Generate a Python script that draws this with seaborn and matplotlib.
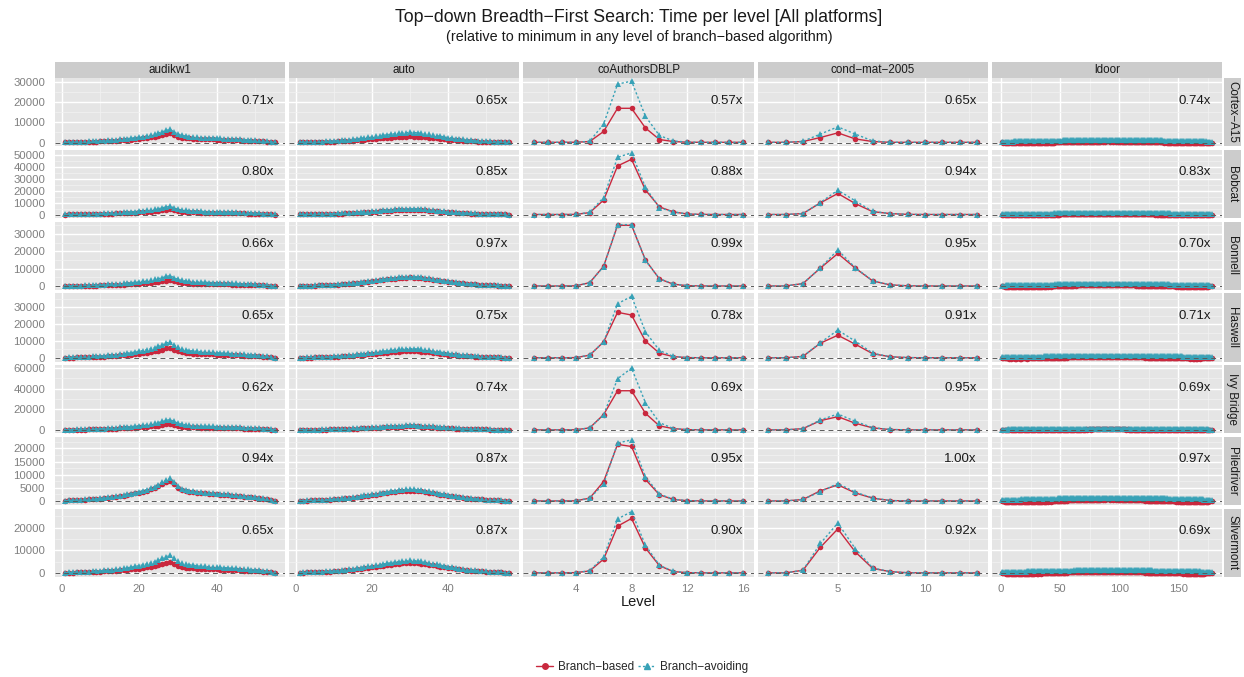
import matplotlib
matplotlib.use("Agg")
import matplotlib.pyplot as plt
import seaborn as sns
import pandas as pd
from matplotlib.patches import Rectangle
from matplotlib.lines import Line2D

platforms = ["Cortex−A15", "Bobcat", "Bonnell", "Haswell", "Ivy Bridge", "Piledriver", "Silvermont"]
graphs = ["audikw1", "auto", "coAuthorsDBLP", "cond−mat−2005", "ldoor"]
algos = ["Branch−based", "Branch−avoiding"]

speedups = [
    [0.71, 0.65, 0.57, 0.65, 0.74],
    [0.80, 0.85, 0.88, 0.94, 0.83],
    [0.66, 0.97, 0.99, 0.95, 0.70],
    [0.65, 0.75, 0.78, 0.91, 0.71],
    [0.62, 0.74, 0.69, 0.95, 0.69],
    [0.94, 0.87, 0.95, 1.00, 0.97],
    [0.65, 0.87, 0.90, 0.92, 0.69],
]

y_breaks = [
    [0, 10000, 20000, 30000],
    [0, 10000, 20000, 30000, 40000, 50000],
    [0, 10000, 20000, 30000],
    [0, 10000, 20000, 30000],
    [0, 20000, 40000, 60000],
    [0, 5000, 10000, 15000, 20000],
    [0, 10000, 20000],
]
x_breaks = [[0, 20, 40], [0, 20, 40], [4, 8, 12, 16], [5, 10], [0, 50, 100, 150]]

# ---- audikw1 ----
audikw1_based = {
    "Cortex−A15": [90,140,180,230,270,320,360,410,450,540,630,720,810,950,1080,1220,1350,1490,1670,1850,2070,2300,2570,2880,3240,3690,4190,4500,3690,2930,2480,2250,2070,1940,1800,1710,1670,1580,1530,1490,1400,1350,1310,1220,1170,1080,990,900,860,770,680,540,410,270,90],
    "Bobcat": [90,140,180,230,270,320,360,410,450,540,630,720,810,950,1080,1220,1350,1490,1670,1850,2070,2300,2570,2880,3240,3690,4190,4500,3690,2930,2480,2250,2070,1940,1800,1710,1670,1580,1530,1490,1400,1350,1310,1220,1170,1080,990,900,860,770,680,540,410,270,90],
    "Bonnell": [70,105,140,175,210,245,280,315,350,420,490,560,630,735,840,945,1050,1155,1295,1435,1610,1785,1995,2240,2520,2870,3255,3500,2870,2275,1925,1750,1610,1505,1400,1330,1295,1225,1190,1155,1085,1050,1015,945,910,840,770,700,665,595,525,420,315,210,70],
    "Haswell": [120,180,240,300,360,420,480,540,600,720,840,960,1080,1260,1440,1620,1800,1980,2220,2460,2760,3060,3420,3840,4320,4920,5580,6000,4920,3900,3300,3000,2760,2580,2400,2280,2220,2100,2040,1980,1860,1800,1740,1620,1560,1440,1320,1200,1140,1020,900,720,540,360,120],
    "Ivy Bridge": [120,180,240,300,360,420,480,540,600,720,840,960,1080,1260,1440,1620,1800,1980,2220,2460,2760,3060,3420,3840,4320,4920,5580,6000,4920,3900,3300,3000,2760,2580,2400,2280,2220,2100,2040,1980,1860,1800,1740,1620,1560,1440,1320,1200,1140,1020,900,720,540,360,120],
    "Piledriver": [156,234,312,390,468,546,624,702,780,936,1092,1248,1404,1638,1872,2106,2340,2574,2886,3198,3588,3978,4446,4992,5616,6396,7254,7800,6396,5070,4290,3900,3588,3354,3120,2964,2886,2730,2652,2574,2418,2340,2262,2106,2028,1872,1716,1560,1482,1326,1170,936,702,468,156],
    "Silvermont": [96,144,192,240,288,336,384,432,480,576,672,768,864,1008,1152,1296,1440,1584,1776,1968,2208,2448,2736,3072,3456,3936,4464,4800,3936,3120,2640,2400,2208,2064,1920,1824,1776,1680,1632,1584,1488,1440,1392,1296,1248,1152,1056,960,912,816,720,576,432,288,96],
}
audikw1_avoiding = {
    "Cortex−A15": [130,200,260,330,390,460,520,590,650,780,910,1040,1170,1370,1560,1760,1950,2150,2410,2670,2990,3320,3710,4160,4680,5330,6050,6500,5330,4230,3580,3250,2990,2800,2600,2470,2410,2280,2210,2150,2020,1950,1890,1760,1690,1560,1430,1300,1240,1110,980,780,590,390,130],
    "Bobcat": [140,210,280,350,420,490,560,630,700,840,980,1120,1260,1470,1680,1890,2100,2310,2590,2870,3220,3570,3990,4480,5040,5740,6510,7000,5740,4550,3850,3500,3220,3010,2800,2660,2590,2450,2380,2310,2170,2100,2030,1890,1820,1680,1540,1400,1330,1190,1050,840,630,420,140],
    "Bonnell": [120,180,240,300,360,420,480,540,600,720,840,960,1080,1260,1440,1620,1800,1980,2220,2460,2760,3060,3420,3840,4320,4920,5580,6000,4920,3900,3300,3000,2760,2580,2400,2280,2220,2100,2040,1980,1860,1800,1740,1620,1560,1440,1320,1200,1140,1020,900,720,540,360,120],
    "Haswell": [190,285,380,475,570,665,760,855,950,1140,1330,1520,1710,1995,2280,2565,2850,3135,3515,3895,4370,4845,5415,6080,6840,7790,8835,9500,7790,6175,5225,4750,4370,4085,3800,3610,3515,3325,3230,3135,2945,2850,2755,2565,2470,2280,2090,1900,1805,1615,1425,1140,855,570,190],
    "Ivy Bridge": [200,300,400,500,600,700,800,900,1000,1200,1400,1600,1800,2100,2400,2700,3000,3300,3700,4100,4600,5100,5700,6400,7200,8200,9300,10000,8200,6500,5500,5000,4600,4300,4000,3800,3700,3500,3400,3300,3100,3000,2900,2700,2600,2400,2200,2000,1900,1700,1500,1200,900,600,200],
    "Piledriver": [172,258,344,430,516,602,688,774,860,1032,1204,1376,1548,1806,2064,2322,2580,2838,3182,3526,3956,4386,4902,5504,6192,7052,7998,8600,7052,5590,4730,4300,3956,3698,3440,3268,3182,3010,2924,2838,2666,2580,2494,2322,2236,2064,1892,1720,1634,1462,1290,1032,774,516,172],
    "Silvermont": [156,234,312,390,468,546,624,702,780,936,1092,1248,1404,1638,1872,2106,2340,2574,2886,3198,3588,3978,4446,4992,5616,6396,7254,7800,6396,5070,4290,3900,3588,3354,3120,2964,2886,2730,2652,2574,2418,2340,2262,2106,2028,1872,1716,1560,1482,1326,1170,936,702,468,156],
}

# ---- auto ----
auto_based = {
    "Cortex−A15": [90,120,150,180,210,240,300,360,420,480,570,660,750,870,990,1110,1260,1410,1560,1710,1860,2010,2160,2310,2460,2610,2730,2850,2940,3000,2970,2880,2760,2610,2430,2250,2040,1860,1680,1500,1350,1200,1050,930,810,690,600,510,450,390,330,270,210,150,90,60],
    "Bobcat": [120,160,200,240,280,320,400,480,560,640,760,880,1000,1160,1320,1480,1680,1880,2080,2280,2480,2680,2880,3080,3280,3480,3640,3800,3920,4000,3960,3840,3680,3480,3240,3000,2720,2480,2240,2000,1800,1600,1400,1240,1080,920,800,680,600,520,440,360,280,200,120,80],
    "Bonnell": [150,200,250,300,350,400,500,600,700,800,950,1100,1250,1450,1650,1850,2100,2350,2600,2850,3100,3350,3600,3850,4100,4350,4550,4750,4900,5000,4950,4800,4600,4350,4050,3750,3400,3100,2800,2500,2250,2000,1750,1550,1350,1150,1000,850,750,650,550,450,350,250,150,100],
    "Haswell": [120,160,200,240,280,320,400,480,560,640,760,880,1000,1160,1320,1480,1680,1880,2080,2280,2480,2680,2880,3080,3280,3480,3640,3800,3920,4000,3960,3840,3680,3480,3240,3000,2720,2480,2240,2000,1800,1600,1400,1240,1080,920,800,680,600,520,440,360,280,200,120,80],
    "Ivy Bridge": [105,140,175,210,245,280,350,420,490,560,665,770,875,1015,1155,1295,1470,1645,1820,1995,2170,2345,2520,2695,2870,3045,3185,3325,3430,3500,3465,3360,3220,3045,2835,2625,2380,2170,1960,1750,1575,1400,1225,1085,945,805,700,595,525,455,385,315,245,175,105,70],
    "Piledriver": [120,160,200,240,280,320,400,480,560,640,760,880,1000,1160,1320,1480,1680,1880,2080,2280,2480,2680,2880,3080,3280,3480,3640,3800,3920,4000,3960,3840,3680,3480,3240,3000,2720,2480,2240,2000,1800,1600,1400,1240,1080,920,800,680,600,520,440,360,280,200,120,80],
    "Silvermont": [135,180,225,270,315,360,450,540,630,720,855,990,1125,1305,1485,1665,1890,2115,2340,2565,2790,3015,3240,3465,3690,3915,4095,4275,4410,4500,4455,4320,4140,3915,3645,3375,3060,2790,2520,2250,2025,1800,1575,1395,1215,1035,900,765,675,585,495,405,315,225,135,90],
}
auto_avoiding = {
    "Cortex−A15": [150,200,250,300,350,400,500,600,700,800,950,1100,1250,1450,1650,1850,2100,2350,2600,2850,3100,3350,3600,3850,4100,4350,4550,4750,4900,5000,4950,4800,4600,4350,4050,3750,3400,3100,2800,2500,2250,2000,1750,1550,1350,1150,1000,850,750,650,550,450,350,250,150,100],
    "Bobcat": [150,200,250,300,350,400,500,600,700,800,950,1100,1250,1450,1650,1850,2100,2350,2600,2850,3100,3350,3600,3850,4100,4350,4550,4750,4900,5000,4950,4800,4600,4350,4050,3750,3400,3100,2800,2500,2250,2000,1750,1550,1350,1150,1000,850,750,650,550,450,350,250,150,100],
    "Bonnell": [165,220,275,330,385,440,550,660,770,880,1045,1210,1375,1595,1815,2035,2310,2585,2860,3135,3410,3685,3960,4235,4510,4785,5005,5225,5390,5500,5445,5280,5060,4785,4455,4125,3740,3410,3080,2750,2475,2200,1925,1705,1485,1265,1100,935,825,715,605,495,385,275,165,110],
    "Haswell": [165,220,275,330,385,440,550,660,770,880,1045,1210,1375,1595,1815,2035,2310,2585,2860,3135,3410,3685,3960,4235,4510,4785,5005,5225,5390,5500,5445,5280,5060,4785,4455,4125,3740,3410,3080,2750,2475,2200,1925,1705,1485,1265,1100,935,825,715,605,495,385,275,165,110],
    "Ivy Bridge": [135,180,225,270,315,360,450,540,630,720,855,990,1125,1305,1485,1665,1890,2115,2340,2565,2790,3015,3240,3465,3690,3915,4095,4275,4410,4500,4455,4320,4140,3915,3645,3375,3060,2790,2520,2250,2025,1800,1575,1395,1215,1035,900,765,675,585,495,405,315,225,135,90],
    "Piledriver": [135,180,225,270,315,360,450,540,630,720,855,990,1125,1305,1485,1665,1890,2115,2340,2565,2790,3015,3240,3465,3690,3915,4095,4275,4410,4500,4455,4320,4140,3915,3645,3375,3060,2790,2520,2250,2025,1800,1575,1395,1215,1035,900,765,675,585,495,405,315,225,135,90],
    "Silvermont": [165,220,275,330,385,440,550,660,770,880,1045,1210,1375,1595,1815,2035,2310,2585,2860,3135,3410,3685,3960,4235,4510,4785,5005,5225,5390,5500,5445,5280,5060,4785,4455,4125,3740,3410,3080,2750,2475,2200,1925,1705,1485,1265,1100,935,825,715,605,495,385,275,165,110],
}

# ---- coAuthorsDBLP ----
coauthors_based = {
    "Cortex−A15": [100,100,100,150,500,5500,17000,17000,7200,1500,500,150,100,100,100,100],
    "Bobcat": [100,100,100,200,1700,12200,41000,46600,20700,6500,2300,500,200,100,100,100],
    "Bonnell": [100,100,100,200,2000,11500,35000,35000,15000,4200,1100,300,100,100,100,100],
    "Haswell": [100,100,100,200,1600,9500,26900,25300,9900,2800,800,200,100,100,100,100],
    "Ivy Bridge": [100,100,100,200,2000,14900,38000,38000,16100,3900,1300,300,100,100,100,100],
    "Piledriver": [50,50,50,100,1100,7400,21500,20700,8200,2400,600,150,50,50,50,50],
    "Silvermont": [50,50,50,150,900,6100,20600,24000,11000,3200,600,150,50,50,50,50],
}
coauthors_avoiding = {
    "Cortex−A15": [100,100,100,150,600,9200,29000,30500,13000,3500,800,200,100,100,100,100],
    "Bobcat": [100,100,100,200,1900,14400,48300,52000,22900,5800,2300,500,200,100,100,100],
    "Bonnell": [100,100,100,200,2000,11300,35400,35400,14800,4300,1200,300,100,100,100,100],
    "Haswell": [100,100,100,200,1700,9400,32000,36300,15400,4400,900,200,100,100,100,100],
    "Ivy Bridge": [100,100,100,200,2000,14500,49600,59900,26400,7100,1400,300,100,100,100,100],
    "Piledriver": [50,50,50,100,1100,6400,22000,23200,9200,2600,700,150,50,50,50,50],
    "Silvermont": [50,50,50,150,1000,7000,23800,27000,12200,3400,700,150,50,50,50,50],
}

# ---- cond-mat-2005 ----
condmat_based = {
    "Cortex−A15": [100,100,500,2500,4800,1800,500,100,100,100,100,100,100],
    "Bobcat": [100,100,900,9900,17800,9300,2500,900,200,100,100,100,100],
    "Bonnell": [100,100,1500,10400,18800,10400,3000,750,200,100,100,100,100],
    "Haswell": [100,100,900,8700,13400,8100,2500,700,200,100,100,100,100],
    "Ivy Bridge": [100,100,1300,9000,12900,6500,2000,400,100,100,100,100,100],
    "Piledriver": [50,50,600,3900,6150,3100,1100,200,50,50,50,50,50],
    "Silvermont": [50,50,1200,11300,19400,9300,2000,600,100,50,50,50,50],
}
condmat_avoiding = {
    "Cortex−A15": [100,100,600,4200,7800,4200,800,150,100,100,100,100,100],
    "Bobcat": [100,100,900,10200,20600,11600,2700,900,200,100,100,100,100],
    "Bonnell": [100,100,1500,10600,20800,10600,3100,750,200,100,100,100,100],
    "Haswell": [100,100,900,9000,16400,9900,2800,700,200,100,100,100,100],
    "Ivy Bridge": [100,100,1300,9700,15500,8400,2200,500,100,100,100,100,100],
    "Piledriver": [50,50,600,3600,6650,3400,1200,200,50,50,50,50,50],
    "Silvermont": [50,50,1200,13000,22000,10700,2200,600,100,50,50,50,50],
}

# ---- ldoor (nearly identical on every platform) ----
ldoor_based = [100,-100,-200,-300,-300,-300,-400,-400,-300,-300,
    -300,-400,-400,-300,-300,-400,-400,-300,-300,-300,
    -300,-400,-300,-300,-300,-300,-300,-300,-200,-300,
    -300,-200,-200,-300,-200,-200,-200,-200,-100,-200,
    -100,-200,-100,-100,0,100,100,100,100,200,
    200,200,200,200,300,200,300,300,300,300,
    300,400,300,400,400,400,400,400,400,400,
    400,500,400,500,500,400,500,500,500,500,
    500,500,500,500,600,500,600,500,600,600,
    600,500,600,600,500,600,500,600,500,500,
    500,500,500,500,500,400,500,400,400,400,
    400,400,400,300,400,300,300,300,300,300,
    300,200,300,200,200,200,200,200,200,100,
    200,100,100,100,100,100,100,0,100,0,
    0,-100,0,-100,-100,-100,-100,-200,-100,-200,
    -200,-200,-200,-300,-200,-300,-300,-300,-300,-400,
    -300,-400,-400,-300,-400,-400,-300,-400,-300,-300,
    -300,-300,-200,-200,-200,-100,-100,0]
ldoor_avoiding = [300,350,370,410,440,450,470,480,500,510,
    520,530,550,560,570,590,600,610,630,640,
    650,660,680,690,710,720,730,750,760,770,
    780,800,810,820,830,850,860,870,880,890,
    900,910,920,930,950,960,970,980,990,1000,
    1010,1020,1030,1040,1050,1050,1060,1070,1080,1090,
    1090,1100,1110,1110,1120,1130,1130,1140,1140,1150,
    1150,1160,1160,1170,1170,1180,1180,1190,1190,1200,
    1200,1210,1210,1210,1220,1220,1230,1230,1230,1240,
    1240,1240,1250,1250,1250,1250,1260,1260,1260,1260,
    1260,1260,1260,1250,1250,1250,1250,1240,1240,1240,
    1230,1230,1220,1220,1210,1210,1200,1200,1190,1180,
    1170,1160,1150,1140,1130,1120,1110,1100,1090,1080,
    1070,1060,1050,1040,1030,1020,1010,1000,990,980,
    970,960,950,940,930,920,910,900,890,880,
    870,860,850,840,830,820,810,800,790,780,
    770,760,750,740,720,700,680,660,640,620,
    600,570,540,500,460,410,360,300]

# ---------------------------------------------------------------
series = {
    "audikw1": (audikw1_based, audikw1_avoiding),
    "auto": (auto_based, auto_avoiding),
    "coAuthorsDBLP": (coauthors_based, coauthors_avoiding),
    "cond−mat−2005": (condmat_based, condmat_avoiding),
    "ldoor": ({p: ldoor_based for p in platforms}, {p: ldoor_avoiding for p in platforms}),
}
records = []
for g in graphs:
    for a, d in zip(algos, series[g]):
        for p in platforms:
            for k, v in enumerate(d[p]):
                records.append((p, g, a, k + 1, v))
df = pd.DataFrame(records, columns=["platform", "graph", "algo", "level", "time"])

RED = "#C9283E"
BLUE = "#38A2B7"
styles = {
    "Branch−based": dict(color=RED, marker="o", markersize=4.0, linestyle="-", linewidth=1.0),
    "Branch−avoiding": dict(color=BLUE, marker="^", markersize=4.8, linestyle=(0, (1.6, 1.6)), linewidth=1.0),
}

sns.set_theme(style="darkgrid", rc={
    "axes.facecolor": "#E5E5E5",
    "grid.color": "white",
    "grid.linewidth": 1.0,
    "axes.edgecolor": "#E5E5E5",
})
plt.rcParams["font.family"] = ["Liberation Sans", "DejaVu Sans"]

W, H = 1244, 677
fig, axes = plt.subplots(7, 5, figsize=(W / 100, H / 100), dpi=100, sharex="col", sharey="row")
L, R, T, B = 55, 1222, 78, 577
pw = (R - L - 4 * 4) / 5
ph = (B - T - 6 * 3.3) / 7
fig.subplots_adjust(left=L / W, right=R / W, top=1 - T / H, bottom=1 - B / H,
                    wspace=4 / pw, hspace=3.3 / ph)

# draw the data
for i, p in enumerate(platforms):
    for j, g in enumerate(graphs):
        ax = axes[i, j]
        sub = df[(df.platform == p) & (df.graph == g)]
        for a in algos:
            sns.lineplot(data=sub[sub.algo == a], x="level", y="time", ax=ax,
                         estimator=None, markeredgewidth=0, legend=False, **styles[a])
        ax.set_xlabel("")
        ax.set_ylabel("")

# freeze the (shared) data-driven limits before adding ticks
xlims = [axes[0, j].get_xlim() for j in range(5)]
ylims = [axes[i, 0].get_ylim() for i in range(7)]

for i, p in enumerate(platforms):
    for j, g in enumerate(graphs):
        ax = axes[i, j]
        ax.axhline(0, color="#5A5A5A", linestyle=(0, (5, 4)), linewidth=0.7, zorder=5)
        ax.text(0.952, 0.67, f"{speedups[i][j]:.2f}x", transform=ax.transAxes,
                ha="right", va="center", fontsize=9.5, color="#1A1A1A")
        xb = x_breaks[j]
        xs = xb[1] - xb[0]
        ax.set_xticks(xb)
        ax.set_xticks([xb[0] - xs / 2] + [b + xs / 2 for b in xb], minor=True)
        yb = y_breaks[i]
        ys = yb[1] - yb[0]
        ax.set_yticks(yb)
        ax.set_yticks([yb[0] - ys / 2] + [b + ys / 2 for b in yb], minor=True)
        ax.set_xlim(xlims[j])
        ax.set_ylim(ylims[i])
        ax.grid(which="major", color="white", linewidth=1.0)
        ax.grid(which="minor", color="#F2F2F2", linewidth=0.5)
        ax.tick_params(which="minor", length=0)
        ax.tick_params(which="major", labelsize=8.2, labelcolor="#7F7F7F", color="#7F7F7F",
                       length=3.5, width=0.6)
        ax.tick_params(axis="y", pad=3.5)
        ax.tick_params(axis="x", pad=1.5)
        if j > 0:
            ax.tick_params(axis="y", length=0)
        if i < 6:
            ax.tick_params(axis="x", length=0)
        for s in ax.spines.values():
            s.set_visible(False)
        if i == 0:
            sh = 16.5 / ph
            ax.add_patch(Rectangle((0, 1.0), 1, sh, transform=ax.transAxes,
                                   facecolor="#CCCCCC", edgecolor="none", clip_on=False))
            ax.text(0.5, 1 + sh / 2, g, transform=ax.transAxes, ha="center", va="center",
                    fontsize=8.4, color="#1A1A1A")
        if j == 4:
            sw = 17.5 / pw
            x0 = 1 + 1.5 / pw
            ax.add_patch(Rectangle((x0, 0), sw, 1, transform=ax.transAxes,
                                   facecolor="#CCCCCC", edgecolor="none", clip_on=False))
            ax.text(x0 + sw / 2, 0.5, p, transform=ax.transAxes, ha="center", va="center",
                    rotation=270, fontsize=8.4, color="#1A1A1A")

fig.text(639 / W, 1 - 18 / H, "Top−down Breadth−First Search: Time per level [All platforms]",
         ha="center", va="center", fontsize=12.8, color="#1A1A1A")
fig.text(639 / W, 1 - 37 / H, "(relative to minimum in any level of branch−based algorithm)",
         ha="center", va="center", fontsize=10.4, color="#1A1A1A")
fig.text(638 / W, 1 - 602 / H, "Level", ha="center", va="center", fontsize=10.5, color="#1A1A1A")

handles = [Line2D([], [], **styles[a]) for a in algos]
fig.legend(handles, algos, loc="center", bbox_to_anchor=(642 / W, 1 - 667 / H), ncol=2,
           frameon=False, fontsize=8.5, handlelength=1.5, handletextpad=0.4, columnspacing=0.3)

fig.savefig("out.png", dpi=100)
